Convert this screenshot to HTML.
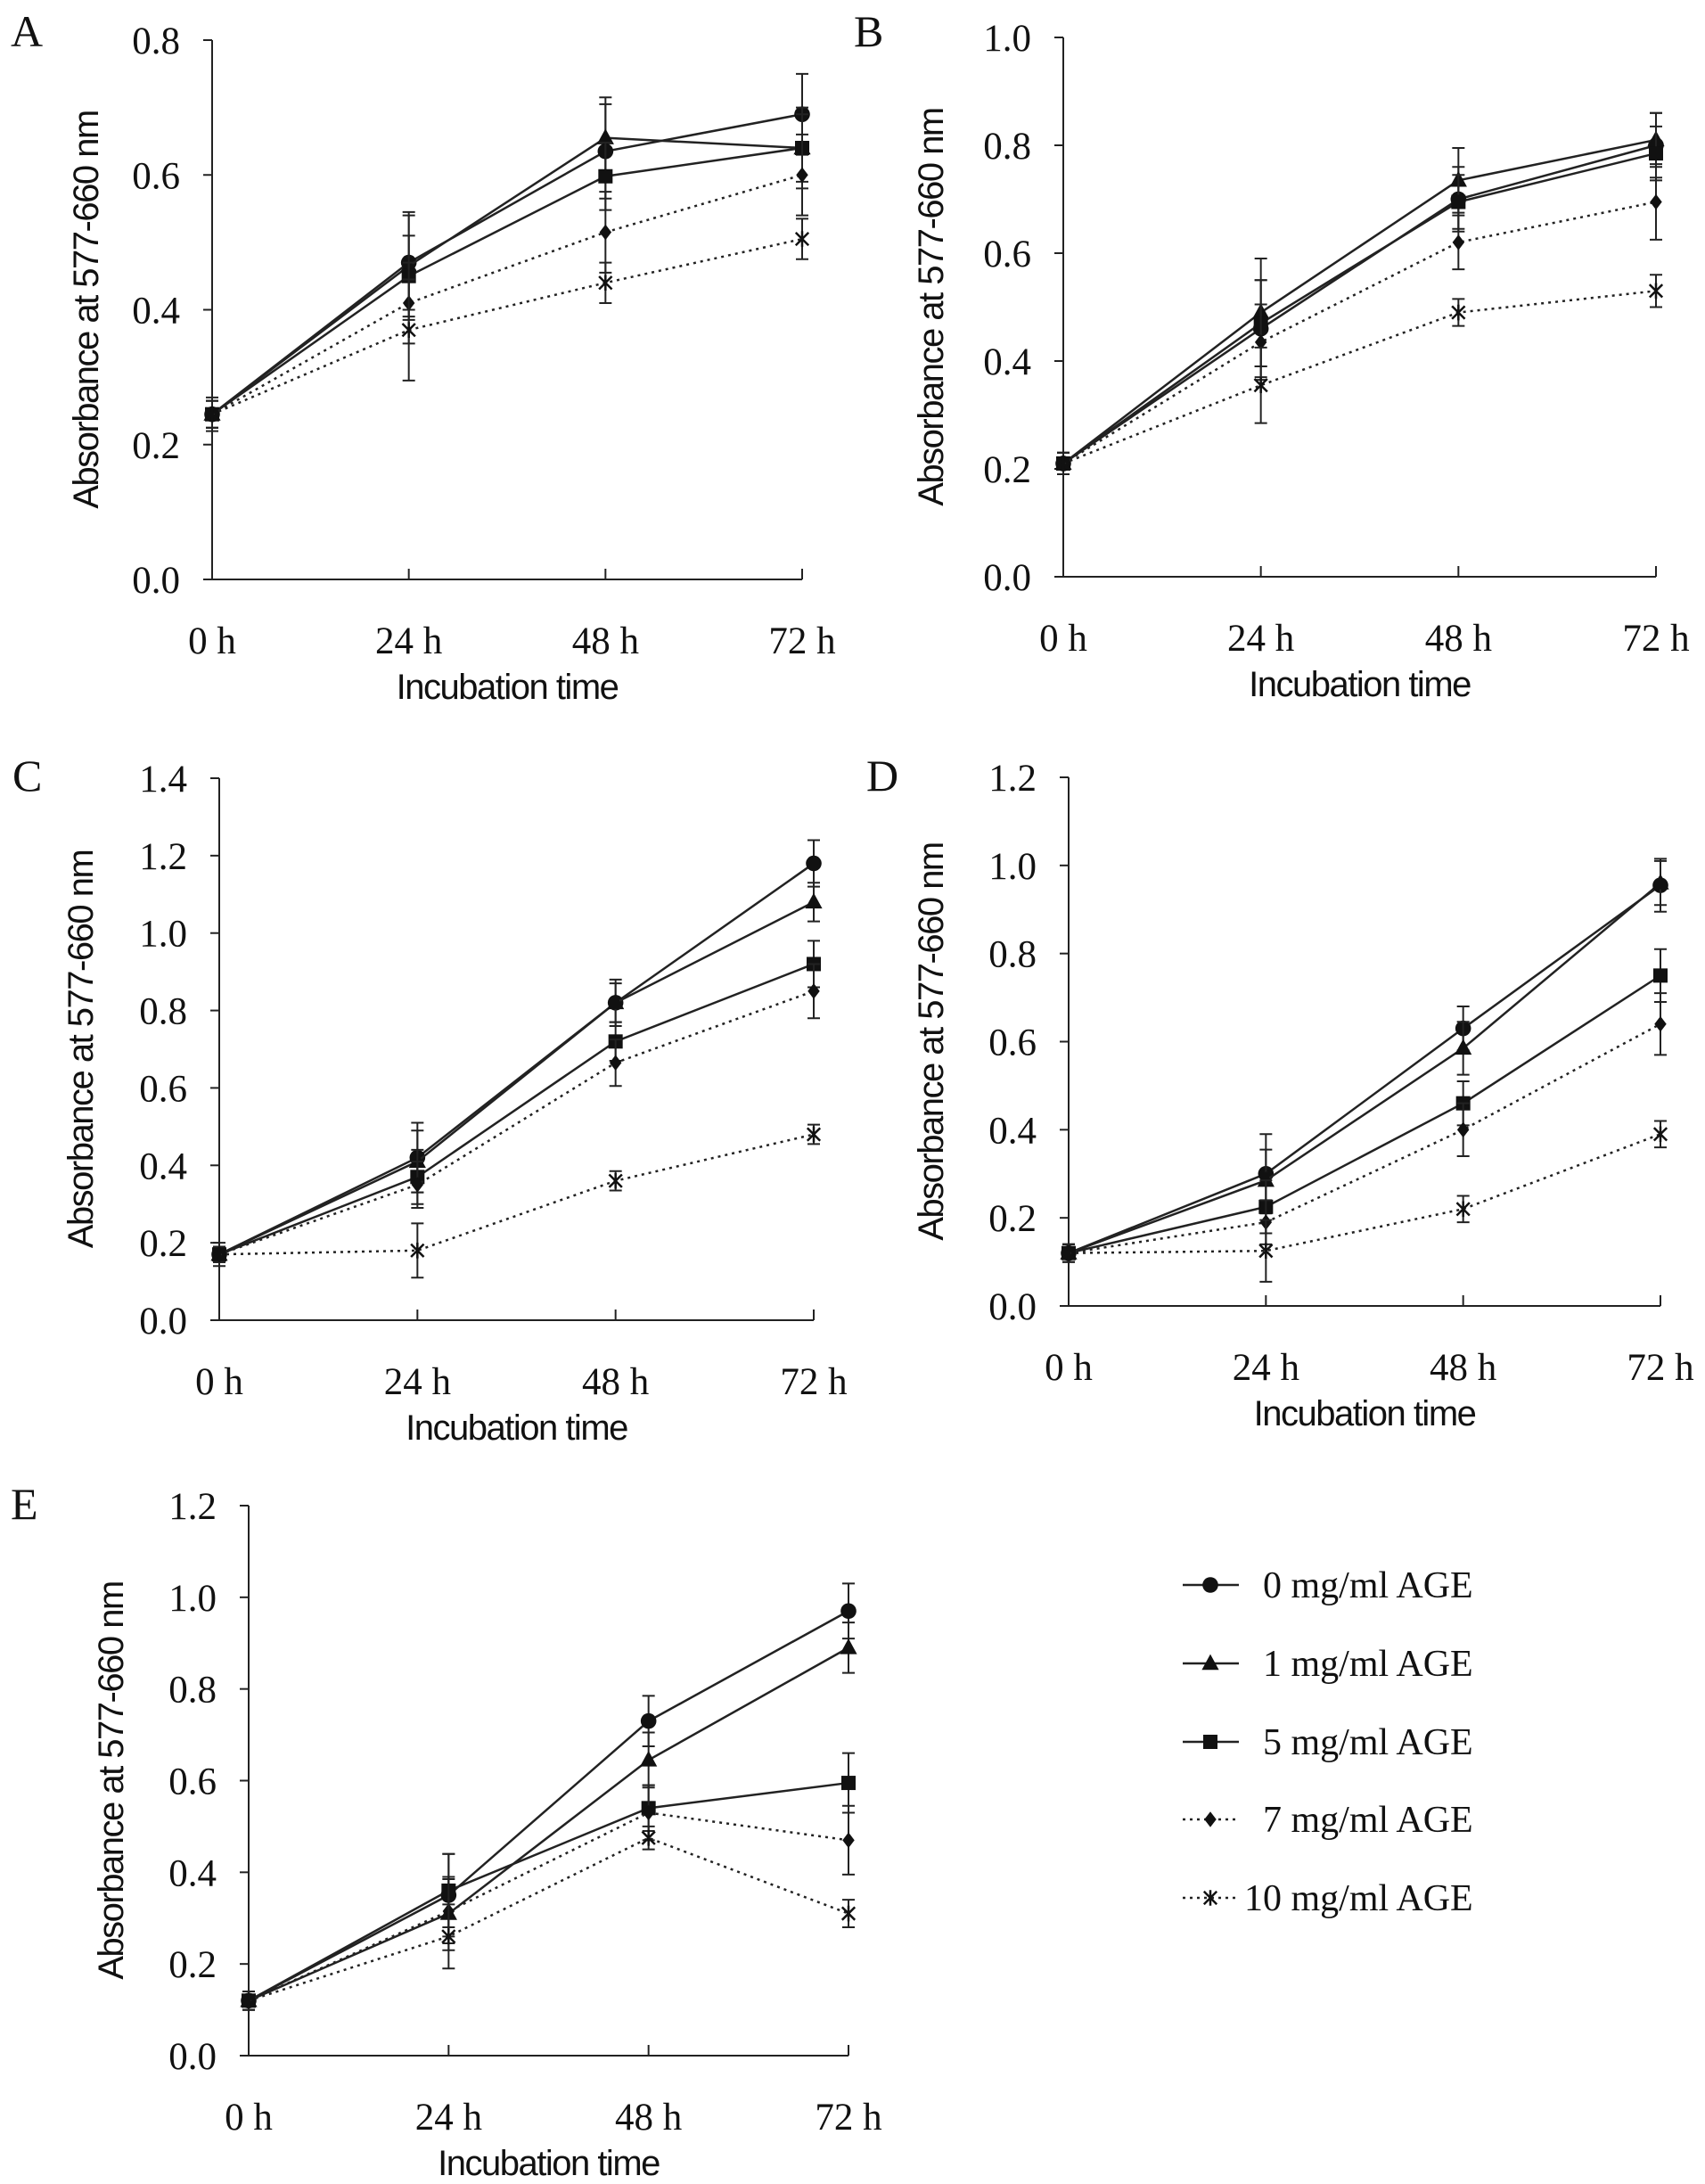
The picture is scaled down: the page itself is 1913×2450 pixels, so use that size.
<!DOCTYPE html>
<html><head><meta charset="utf-8">
<style>
html,body{margin:0;padding:0;background:#fff;}
svg{display:block;}
.tick{font-family:"Liberation Serif",serif;font-size:43px;fill:#111;}
.leg{font-family:"Liberation Serif",serif;font-size:42px;fill:#111;}
.ttl{font-family:"Liberation Sans",sans-serif;font-size:40px;fill:#111;letter-spacing:-1.5px;}
.pl{font-family:"Liberation Serif",serif;font-size:50px;fill:#111;}
</style></head>
<body>
<svg id="fig" width="1913" height="2450" viewBox="0 0 1913 2450" xmlns="http://www.w3.org/2000/svg"></svg>
<script>
const categories = ["0 h","24 h","48 h","72 h"];
const seriesNames = ["0 mg/ml AGE","1 mg/ml AGE","5 mg/ml AGE","7 mg/ml AGE","10 mg/ml AGE"];
const markers = ["circle","triangle","square","diamond","star"];
// Panel A
const aVals0=[0.245,0.47,0.635,0.69], aVals1=[0.245,0.465,0.655,0.64], aVals5=[0.245,0.45,0.598,0.64], aVals7=[0.245,0.41,0.515,0.60], aVals10=[0.245,0.37,0.44,0.505];
const aErr0=[0.025,0.07,0.07,0.06], aErr1=[0.02,0.08,0.06,0.06], aErr5=[0.02,0.06,0.05,0.05], aErr7=[0.02,0.06,0.06,0.06], aErr10=[0.02,0.075,0.03,0.03];
const aTicks=[0,0.2,0.4,0.6,0.8];
// Panel B
const bVals0=[0.21,0.46,0.70,0.80], bVals1=[0.21,0.49,0.735,0.81], bVals5=[0.21,0.47,0.695,0.785], bVals7=[0.21,0.435,0.62,0.695], bVals10=[0.21,0.355,0.49,0.53];
const bErr0=[0.02,0.09,0.06,0.06], bErr1=[0.02,0.1,0.06,0.05], bErr5=[0.02,0.08,0.05,0.05], bErr7=[0.02,0.07,0.05,0.07], bErr10=[0.02,0.07,0.025,0.03];
const bTicks=[0,0.2,0.4,0.6,0.8,1.0];
// Panel C
const cVals0=[0.17,0.42,0.82,1.18], cVals1=[0.17,0.41,0.82,1.08], cVals5=[0.17,0.37,0.72,0.92], cVals7=[0.17,0.35,0.665,0.85], cVals10=[0.17,0.18,0.36,0.48];
const cErr0=[0.03,0.09,0.06,0.06], cErr1=[0.02,0.08,0.05,0.05], cErr5=[0.02,0.07,0.05,0.06], cErr7=[0.02,0.06,0.06,0.07], cErr10=[0.02,0.07,0.025,0.025];
const cTicks=[0,0.2,0.4,0.6,0.8,1.0,1.2,1.4];
// Panel D
const dVals0=[0.12,0.30,0.63,0.955], dVals1=[0.12,0.285,0.585,0.96], dVals5=[0.12,0.225,0.46,0.75], dVals7=[0.12,0.19,0.40,0.64], dVals10=[0.12,0.125,0.22,0.39];
const dErr0=[0.02,0.09,0.05,0.06], dErr1=[0.02,0.07,0.06,0.05], dErr5=[0.02,0.06,0.05,0.06], dErr7=[0.02,0.05,0.06,0.07], dErr10=[0.02,0.07,0.03,0.03];
const dTicks=[0,0.2,0.4,0.6,0.8,1.0,1.2];
// Panel E
const eVals0=[0.12,0.35,0.73,0.97], eVals1=[0.12,0.31,0.645,0.89], eVals5=[0.12,0.36,0.54,0.595], eVals7=[0.12,0.315,0.53,0.47], eVals10=[0.12,0.26,0.475,0.31];
const eErr0=[0.02,0.09,0.055,0.06], eErr1=[0.02,0.08,0.06,0.055], eErr5=[0.02,0.08,0.05,0.065], eErr7=[0.02,0.07,0.06,0.075], eErr10=[0.02,0.07,0.025,0.03];
const eTicks=[0,0.2,0.4,0.6,0.8,1.0,1.2];

const NS="http://www.w3.org/2000/svg";
const svg=document.getElementById('fig');
function mk(tag,attrs,parent){const e=document.createElementNS(NS,tag);for(const k in attrs)e.setAttribute(k,attrs[k]);(parent||svg).appendChild(e);return e;}

function drawMarker(g,type,x,y,s){
  let e;
  if(type==="circle"){e=mk('circle',{cx:x,cy:y,r:s*0.55,fill:'#111'},g);}
  else if(type==="triangle"){e=mk('polygon',{points:`${x},${y-s*0.65} ${x-s*0.6},${y+s*0.45} ${x+s*0.6},${y+s*0.45}`,fill:'#111'},g);}
  else if(type==="square"){e=mk('rect',{x:x-s*0.5,y:y-s*0.5,width:s,height:s,fill:'#111'},g);}
  else if(type==="diamond"){e=mk('polygon',{points:`${x},${y-s*0.55} ${x+s*0.42},${y} ${x},${y+s*0.55} ${x-s*0.42},${y}`,fill:'#111'},g);}
  else {e=mk('path',{d:`M${x-s*0.45},${y-s*0.45}L${x+s*0.45},${y+s*0.45}M${x+s*0.45},${y-s*0.45}L${x-s*0.45},${y+s*0.45}M${x},${y-s*0.55}L${x},${y+s*0.55}`,stroke:'#111','stroke-width':2.5,fill:'none'},g);}
  
  
}

function panel(cfg){
  const g=mk('g',{});
  
  
  const ymax=cfg.ticks[cfg.ticks.length-1];
  const xs=i=>cfg.x0+(cfg.x1-cfg.x0)*i/(categories.length-1);
  const ys=v=>cfg.yb-(cfg.yb-cfg.yt)*v/ymax;
  const lt=mk('text',{x:cfg.lx,y:cfg.ly,class:'pl'},g); lt.textContent=cfg.letter;
  
  
  const ax=mk('path',{d:`M${cfg.x0},${cfg.yt}V${cfg.yb}H${cfg.x1}`,stroke:'#222','stroke-width':2,fill:'none'},g);
  
  
  cfg.ticks.forEach(t=>{
    mk('line',{x1:cfg.x0-10,x2:cfg.x0,y1:ys(t),y2:ys(t),stroke:'#222','stroke-width':2},g);
    const tx=mk('text',{x:cfg.x0-36,y:ys(t)+15,'text-anchor':'end',class:'tick'},g);
    tx.textContent=t.toFixed(1);
    
    
  });
  categories.forEach((c,i)=>{
    mk('line',{x1:xs(i),x2:xs(i),y1:cfg.yb,y2:cfg.yb-12,stroke:'#222','stroke-width':2},g);
    const tx=mk('text',{x:xs(i),y:cfg.yb+83,'text-anchor':'middle',class:'tick'},g);
    tx.textContent=c;
    
    
  });
  const xt=mk('text',{x:(cfg.x0+cfg.x1)/2,y:cfg.yb+134,'text-anchor':'middle',class:'ttl'},g);
  xt.textContent="Incubation time";
  
  
  const cy=(cfg.yt+cfg.yb)/2;
  const yt=mk('text',{x:cfg.tx,y:cy,'text-anchor':'middle',class:'ttl',transform:`rotate(-90 ${cfg.tx} ${cy})`},g);
  yt.textContent="Absorbance at 577-660 nm";
  
  
  cfg.vals.forEach((vals,si)=>{
    const sg=mk('g',{},g);
    
    
    const errs=cfg.errs[si];
    vals.forEach((v,i)=>{
      const x=xs(i),e=errs[i];
      mk('path',{d:`M${x},${ys(v-e)}V${ys(v+e)}M${x-7},${ys(v-e)}h14M${x-7},${ys(v+e)}h14`,stroke:'#222','stroke-width':2,fill:'none'},sg);
    });
    const pts=vals.map((v,i)=>xs(i)+','+ys(v)).join(' ');
    const pl=mk('polyline',{points:pts,fill:'none',stroke:'#222','stroke-width':2.5},sg);
    if(si>=3){pl.setAttribute('stroke-dasharray','3 5');}
    
    
    vals.forEach((v,i)=>drawMarker(sg,markers[si],xs(i),ys(v),16));
  });
}

panel({letter:'A',lx:12,ly:52,x0:238,x1:900,yt:45,yb:650,tx:110,ticks:aTicks,vals:[aVals0,aVals1,aVals5,aVals7,aVals10],errs:[aErr0,aErr1,aErr5,aErr7,aErr10]});
panel({letter:'B',lx:958,ly:52,x0:1193,x1:1858,yt:42,yb:647,tx:1058,ticks:bTicks,vals:[bVals0,bVals1,bVals5,bVals7,bVals10],errs:[bErr0,bErr1,bErr5,bErr7,bErr10]});
panel({letter:'C',lx:14,ly:887,x0:246,x1:913,yt:873,yb:1481,tx:104,ticks:cTicks,vals:[cVals0,cVals1,cVals5,cVals7,cVals10],errs:[cErr0,cErr1,cErr5,cErr7,cErr10]});
panel({letter:'D',lx:972,ly:887,x0:1199,x1:1863,yt:872,yb:1465,tx:1058,ticks:dTicks,vals:[dVals0,dVals1,dVals5,dVals7,dVals10],errs:[dErr0,dErr1,dErr5,dErr7,dErr10]});
panel({letter:'E',lx:12,ly:1704,x0:279,x1:952,yt:1689,yb:2306,tx:138,ticks:eTicks,vals:[eVals0,eVals1,eVals5,eVals7,eVals10],errs:[eErr0,eErr1,eErr5,eErr7,eErr10]});

// Legend
const lg=mk('g',{});


const legendY=[1778,1866,1954,2041,2129];
seriesNames.forEach((n,i)=>{
  const eg=mk('g',{},lg);
  
  
  const y=legendY[i];
  const l=mk('line',{x1:1327,x2:1390,y1:y,y2:y,stroke:'#222','stroke-width':2.5},eg);
  if(i>=3)l.setAttribute('stroke-dasharray','3 5');
  drawMarker(eg,markers[i],1358,y,16);
  const t=mk('text',{x:(i===4?1396:1417),y:y+14,class:'leg'},eg);
  t.textContent=n;
});
</script>
</body></html>
